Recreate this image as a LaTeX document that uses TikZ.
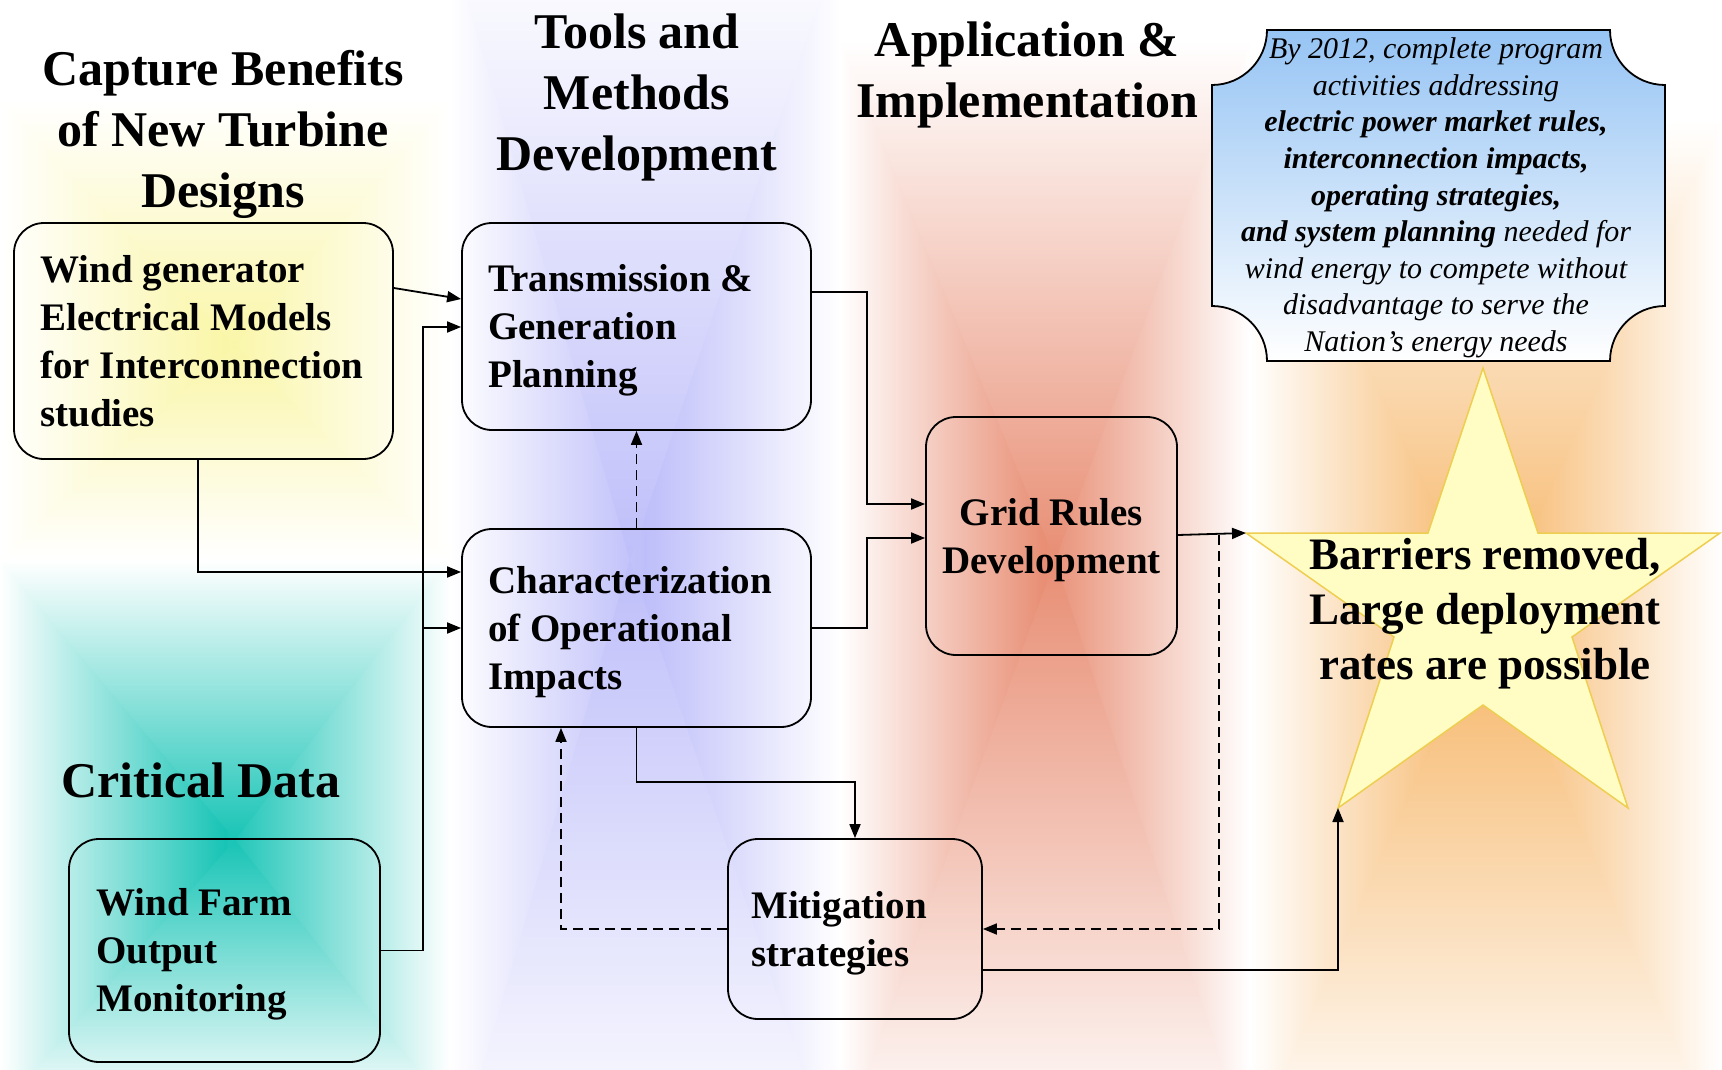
\documentclass[tikz,border=0pt]{standalone}
\usepackage{fontspec}
\setmainfont{Liberation Serif}
\usetikzlibrary{arrows.meta}

\definecolor{glowYellow}{RGB}{250,246,168}
\definecolor{glowTeal}{RGB}{24,196,182}
\definecolor{glowLav}{RGB}{190,190,250}
\definecolor{glowSalmon}{RGB}{232,142,116}
\definecolor{glowOrange}{RGB}{246,180,100}
\definecolor{noteTop}{RGB}{150,196,244}
\definecolor{starFill}{RGB}{255,252,196}
\definecolor{starLine}{RGB}{238,206,80}

% soft "from centre" rectangular glow: x0,y0,x1,y1,cx,cy,colour
% a horizontally shaded band, with the top and bottom wedges shaded vertically
\newcommand\glowrect[7]{%
  \shade[left color=white,right color=white,middle color=#7] (#1,#2+2) rectangle (#3,#4-2);
  \shade[top color=white,bottom color=#7] (#1,#2) -- (#3,#2) -- (#5,#6) -- cycle;
  \shade[top color=#7,bottom color=white] (#1,#4) -- (#3,#4) -- (#5,#6) -- cycle;
}

\begin{document}
\begin{tikzpicture}[x=1pt,y=-1pt,
  box/.style={draw=black,line width=1.8pt,rounded corners=30pt,inner sep=0pt},
  boxtext/.style={align=left,inner sep=0pt,font=\fontsize{39}{48}\selectfont\bfseries},
  hd/.style={align=center,inner sep=0pt,font=\fontsize{50}{61}\selectfont\bfseries},
  arr/.style={line width=1.8pt,-{Triangle[length=14pt,width=11pt]}},
  dashline/.style={dash pattern=on 10pt off 6pt}]

\useasboundingbox (0,0) rectangle (1722,1070);
\fill[white] (0,0) rectangle (1722,1070);

% background glows (tiled so that their white rims meet)
\glowrect{0}{100}{450}{560}{235}{345}{glowYellow}
\glowrect{0}{560}{450}{1110}{235}{840}{glowTeal}
\glowrect{450}{-60}{840}{1180}{630}{560}{glowLav}
\glowrect{840}{40}{1250}{1150}{1055}{560}{glowSalmon}
\glowrect{1250}{120}{1722}{1150}{1490}{620}{glowOrange}

% column headings
\node[hd] (h1) at (223,134) {Capture Benefits\\of New Turbine\\Designs};
\node[hd] (h2) at (637,97) {Tools and\\Methods\\Development};
\node[hd] (h3) at (1027,75) {Application \&\\Implementation};
\node[hd] (h4) at (201,780) {Critical Data};

% goal plaque
\shadedraw[top color=noteTop,bottom color=white,draw=black,line width=1.8pt]
  (1267,30) -- (1610,30) arc[start angle=180,end angle=90,radius=55]
  -- (1665,306) arc[start angle=270,end angle=180,radius=55]
  -- (1267,361) arc[start angle=0,end angle=-90,radius=55]
  -- (1212,85) arc[start angle=90,end angle=0,radius=55] -- cycle;
\node[align=center,inner sep=0pt,font=\fontsize{30}{36.6}\selectfont\itshape] (note) at (1436,198)
  {By 2012, complete program\\activities addressing\\
   \textbf{electric power market rules,}\\\textbf{interconnection impacts,}\\
   \textbf{operating strategies,}\\\textbf{and system planning} needed for\\
   wind energy to compete without\\disadvantage to serve the\\Nation's energy needs};

% star
\coordinate (sT) at (1483,368);
\coordinate (sR) at (1720,533);
\coordinate (sBR) at (1628,808);
\coordinate (sBL) at (1338,808);
\coordinate (sL) at (1246,533);
\filldraw[fill=starFill,draw=starLine,line width=1.5pt]
  (sT) -- (1538,533) -- (sR) -- (1572,637) -- (sBR) -- (1483,705)
  -- (sBL) -- (1394,637) -- (sL) -- (1428,533) -- cycle;
\node[align=center,inner sep=0pt,font=\fontsize{45}{55}\selectfont\bfseries] (goal) at (1485,614)
  {Barriers removed,\\Large deployment\\rates are possible};

% process boxes
\node[box,minimum width=379pt,minimum height=236pt] (wg) at (203.5,341) {};
\node[box,minimum width=349pt,minimum height=207pt] (tp) at (636.5,326.5) {};
\node[box,minimum width=349pt,minimum height=198pt] (cop) at (636.5,628) {};
\node[box,minimum width=251pt,minimum height=238pt] (grid) at (1051.5,536) {};
\node[box,minimum width=254pt,minimum height=180pt] (mit) at (855,929) {};
\node[box,minimum width=311pt,minimum height=223pt] (wf) at (224.5,950.5) {};

% box labels
\node[boxtext,anchor=west] (wgt) at ([xshift=27pt]wg.west)
  {Wind generator\\Electrical Models\\for Interconnection\\studies};
\node[boxtext,anchor=west] (tpt) at ([xshift=27pt,yshift=-4pt]tp.west)
  {Transmission \&\\Generation\\Planning};
\node[boxtext,anchor=west] (copt) at ([xshift=27pt,yshift=-4pt]cop.west)
  {Characterization\\of Operational\\Impacts};
\node[boxtext,align=center] (gridt) at ([yshift=-4pt]grid.center)
  {Grid Rules\\Development};
\node[boxtext,anchor=west] (mitt) at ([xshift=24pt,yshift=-4pt]mit.west)
  {Mitigation\\strategies};
\node[boxtext,anchor=west] (wft) at ([xshift=28pt,yshift=-4pt]wf.west)
  {Wind Farm\\Output\\Monitoring};

% connectors
\draw[arr] (wg.east |- 0,288) -- (tp.west |- 0,299);
\draw[arr] (wf.east) -| (423,327) -- (tp.west |- 0,327);
\draw[arr] (423,628) -- (cop.west);
\draw[arr] (198,459) |- (cop.west |- 0,572);
\draw[arr,dashline] (cop.north) -- (tp.south);
\draw[arr] (tp.east |- 0,292) -- (867,292) |- (grid.west |- 0,504);
\draw[arr] (cop.east) -- (867,628) |- (grid.west |- 0,538);
\draw[arr] (grid.east |- 0,535) -- (sL);
\draw[arr,dashline] (1219,535) |- (mit.east |- 0,929);
\draw[arr] (cop.south) |- (mit.north |- 0,782) -- (mit.north);
\draw[arr,dashline] (mit.west) -| (cop.south -| 561,0);
\draw[arr] (mit.east |- 0,970) -| (sBL);

\end{tikzpicture}
\end{document}
